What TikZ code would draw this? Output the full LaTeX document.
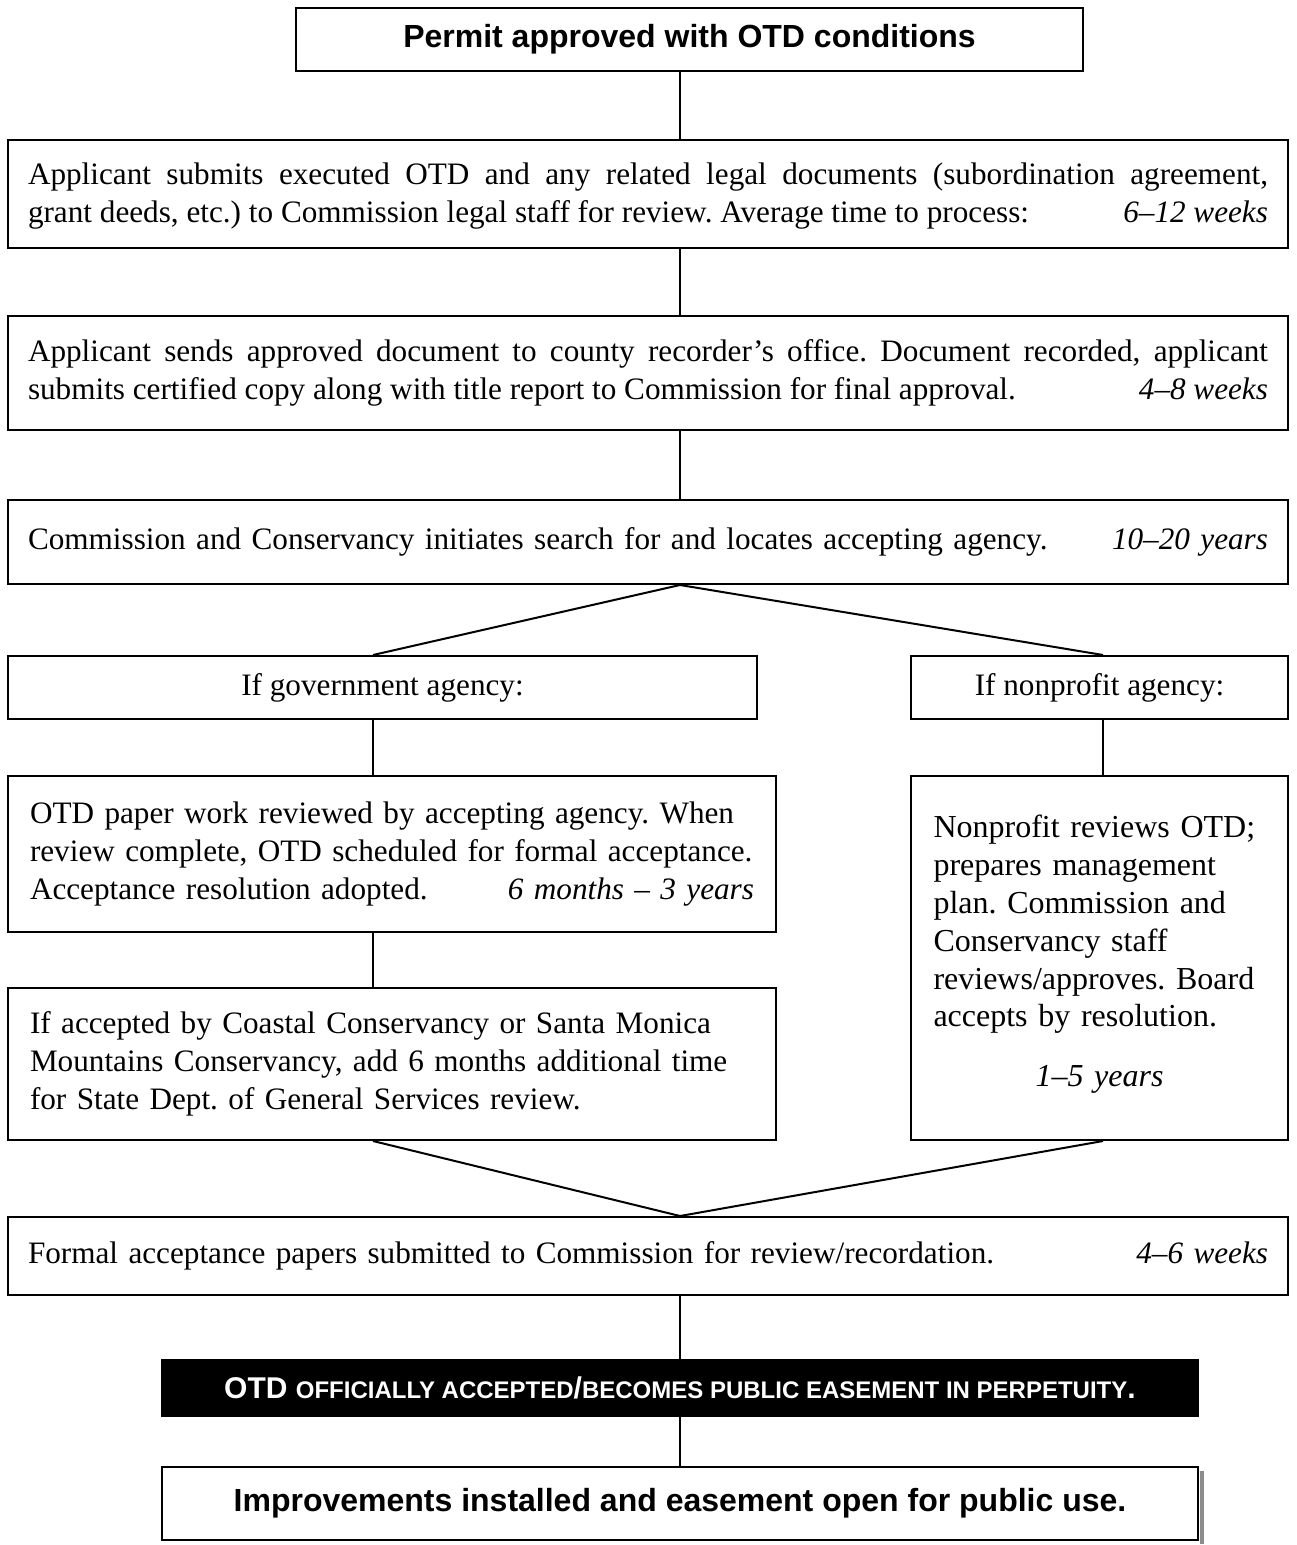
\documentclass[tikz,border=0pt]{standalone}
\usepackage{fontspec}
\setmainfont{Liberation Serif}
\setsansfont{Liberation Sans}
\usetikzlibrary{calc}
\definecolor{schatten}{RGB}{140,140,140}

\tikzset{
  kasten/.style={draw=black,line width=1pt,inner ysep=0pt,inner xsep=10pt,
    font=\fontsize{15.6}{18.9}\selectfont},
  titel/.style={kasten,font=\sffamily\bfseries\fontsize{16}{19}\selectfont},
  strich/.style={draw=black,line width=0.6pt},
  schraeg/.style={draw=black,line width=1pt}
}

\begin{document}
\frenchspacing
\begin{tikzpicture}[x=0.5pt,y=-0.5pt]
\useasboundingbox (0,0) rectangle (1296,1545);
%
% spine coordinates
\coordinate (mitte) at (680,0);
\coordinate (links) at (373,0);
\coordinate (rechts) at (1103,0);
%
% top row
\node[titel,minimum width=393.5pt,minimum height=31.5pt] (permit) at (689.5,39.5) {Permit approved with OTD conditions};

\node[kasten,text width=620pt,minimum height=54pt,align=justify] (submit) at (648,194)
  {\rule{0pt}{13pt}Applicant submits executed OTD and any related legal documents (subordination agreement,\linebreak
   grant deeds, etc.) to Commission legal staff for review. Average time to process:\hfill\textit{6–12 weeks}\hspace*{5pt}};

\node[kasten,text width=620pt,minimum height=57pt,align=justify] (record) at (648,373)
  {Applicant sends approved document to county recorder’s office. Document recorded, applicant\linebreak
   submits certified copy along with title report to Commission for final approval.\hfill\textit{4–8 weeks}};

\node[kasten,text width=620pt,minimum height=42pt,align=left] (search) at (648,542)
  {Commission and Conservancy initiates search for and locates accepting agency.\hfill\textit{10–20 years}};
%
% two branches
\node[kasten,minimum width=374.5pt,minimum height=31.5pt] (gov) at (382.5,687.5) {If government agency:};
\node[kasten,minimum width=188.5pt,minimum height=31.5pt] (nonprofit) at (1099.5,687.5) {If nonprofit agency:};

\node[kasten,inner xsep=11pt,text width=362pt,minimum height=78pt,align=left] (review) at (392,854)
  {OTD paper work reviewed by accepting agency. When\\
   review complete, OTD scheduled for formal acceptance.\\
   Acceptance resolution adopted.\hfill\textit{6 months – 3 years}\hspace*{3pt}};

\node[kasten,inner xsep=11pt,text width=362pt,minimum height=76pt,align=left] (state) at (392,1064)
  {If accepted by Coastal Conservancy or Santa Monica\\
   Mountains Conservancy, add 6 months additional time\\
   for State Dept. of General Services review.};

\node[kasten,inner xsep=11.25pt,text width=166pt,minimum height=182pt,align=left,
  font=\fontsize{16}{18.9}\selectfont] (npreview) at (1099.5,958)
  {Nonprofit reviews OTD;\\
   prepares management\\
   plan. Commission and\\
   Conservancy staff\\
   reviews/approves. Board\\
   accepts by resolution.\\[11pt]
   \makebox[\linewidth][c]{\textit{1–5 years}}\\[-12pt]\mbox{}};
%
% bottom row
\node[kasten,text width=620pt,minimum height=39pt,align=left] (formal) at (648,1256)
  {Formal acceptance papers submitted to Commission for review/recordation.\hfill\textit{4–6 weeks}};

\node[titel,fill=black,text=white,minimum width=518pt,minimum height=28pt] (accepted) at (680,1388)
  {\fontsize{15}{18}\selectfont OTD {\fontsize{12}{15}\selectfont OFFICIALLY ACCEPTED}/{\fontsize{12}{15}\selectfont BECOMES PUBLIC EASEMENT IN PERPETUITY}.};

\fill[schatten] ($(680,1503.5)+(520,-32.5)$) rectangle ($(680,1503.5)+(524,40.5)$);
\node[titel,fill=white,minimum width=518pt,minimum height=36.5pt] (open) at (680,1503.5)
  {Improvements installed and easement open for public use.};
%
% connectors
\draw[strich] (permit.south -| mitte) -- (submit.north -| mitte);
\draw[strich] (submit.south -| mitte) -- (record.north -| mitte);
\draw[strich] (record.south -| mitte) -- (search.north -| mitte);
\draw[schraeg] (search.south -| mitte) -- (gov.north -| links);
\draw[schraeg] (search.south -| mitte) -- (nonprofit.north -| rechts);
\draw[strich] (gov.south -| links) -- (review.north -| links);
\draw[strich] (nonprofit.south -| rechts) -- (npreview.north -| rechts);
\draw[strich] (review.south -| links) -- (state.north -| links);
\draw[schraeg] (state.south -| links) -- (formal.north -| mitte);
\draw[schraeg] (npreview.south -| rechts) -- (formal.north -| mitte);
\draw[strich] (formal.south -| mitte) -- (accepted.north -| mitte);
\draw[strich] (accepted.south -| mitte) -- (open.north -| mitte);

\end{tikzpicture}
\end{document}
